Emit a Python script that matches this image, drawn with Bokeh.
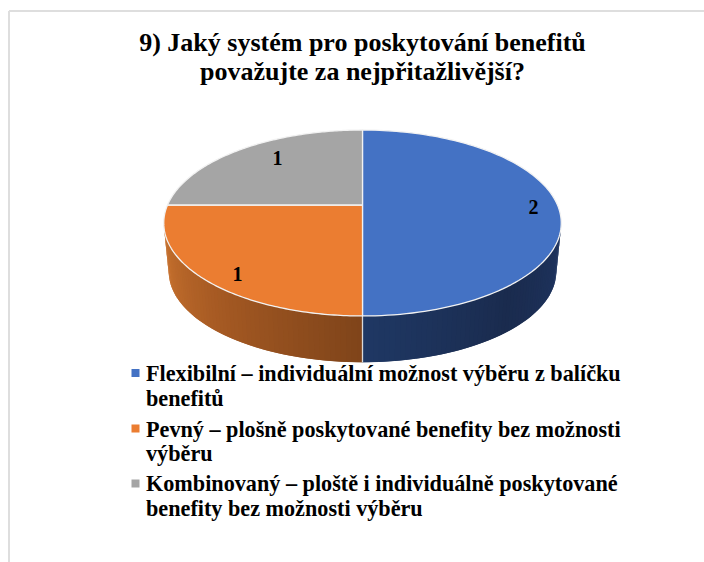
import math
from bokeh.plotting import figure
from bokeh.models import Range1d
from bokeh.core.properties import value
from bokeh.embed import file_html
from bokeh.resources import INLINE

title_lines = ["9) Jaký systém pro poskytování benefitů", "považujte za nejpřitažlivější?"]
slice_values = [2, 1, 1]
slice_colors = ["#4472C4", "#EB7D31", "#A5A5A5"]
legend_lines = [
    ["Flexibilní – individuální možnost výběru z balíčku", "benefitů"],
    ["Pevný – plošně poskytované benefity bez možnosti", "výběru"],
    ["Kombinovaný – ploště i individuálně poskytované", "benefity bez možnosti výběru"],
]
label_positions = [(533, 206), (237, 273), (277, 157)]
legend_line_y = [[373, 398], [429, 453], [483, 508]]
legend_marker_y = [372.5, 428, 483]

FONT = value("Liberation Serif")
W, H = 704, 562
p = figure(width=W, height=H, output_backend="svg", toolbar_location=None,
           x_range=Range1d(0, W), y_range=Range1d(H, 0), min_border=0)
p.axis.visible = False
p.grid.visible = False
p.outline_line_color = None
p.background_fill_color = "white"

CX, CY = 362.0, 204.5
A, B, C = 89.5, 0.1935, 195.0
KX, KY, SIDE_Y = 0.975, 0.975, 253.5


def top(theta):
    u, v = math.sin(theta), math.cos(theta)
    d = 1 + B * v
    return CX + C * u / d, CY - A * v / d


def bottom(theta):
    u, v = math.sin(theta), math.cos(theta)
    d = 1 + B * v
    return CX + KX * C * u / d, SIDE_Y - KY * A * v / d


def mix(c1, c2, t):
    a = [int(c1[i:i + 2], 16) for i in (1, 3, 5)]
    b = [int(c2[i:i + 2], 16) for i in (1, 3, 5)]
    return "#%02x%02x%02x" % tuple(round(x + (y - x) * t) for x, y in zip(a, b))


# frame
p.line([8.5, 8.5], [562, 10.5], line_color="#dedede", line_width=2)
p.line([8.5, 704], [10.5, 10.5], line_color="#dedede", line_width=2)

total = sum(slice_values)
fracs, cum = [], 0.0
for v in slice_values:
    fracs.append((cum, cum + v / total))
    cum += v / total

extreme = math.acos(-B)
side_ranges = [(extreme, math.pi, "#1f3561", "#1a2b4e", "#1f3864"),
               (2 * math.pi - extreme, math.pi, "#cb7430", "#a65a23", "#7f441a")]
for t0, t1, c0, cm, c1 in side_ranges:
    n = 60
    step = (t1 - t0) / n
    for i in range(n):
        a0 = t0 + step * i
        a1 = t1 if i == n - 1 else a0 + step * 2.0
        p0, p1, q1, q0 = top(a0), top(a1), bottom(a1), bottom(a0)
        f = (i + 0.5) / n
        col = mix(c0, cm, f * 2) if f < 0.5 else mix(cm, c1, f * 2 - 1)
        p.patch([p0[0], p1[0], q1[0], q0[0]], [p0[1], p1[1], q1[1], q0[1]],
                fill_color=col, line_color=None)

# side seam
s0, s1 = top(math.pi), bottom(math.pi)
p.line([s0[0], s1[0]], [s0[1], s1[1]], line_color="#d9d9d9", line_width=1.3)

# top faces
for (f0, f1), col in zip(fracs, slice_colors):
    n = 120
    pts = [top(2 * math.pi * (f0 + (f1 - f0) * i / n)) for i in range(n + 1)]
    xs = [CX] + [q[0] for q in pts]
    ys = [CY] + [q[1] for q in pts]
    p.patch(xs, ys, fill_color=col, line_color="#f2f2f2", line_width=1.3, line_join="round")

# data labels
p.text([q[0] for q in label_positions], [q[1] for q in label_positions],
       text=[str(v) for v in slice_values], text_font=FONT, text_font_style="bold",
       text_font_size="20px", text_color="#000000", text_align="center", text_baseline="middle")

# title
p.text([362, 362], [42, 71], text=title_lines, text_font=FONT, text_font_style="bold",
       text_font_size="26px", text_color="#000000", text_align="center", text_baseline="middle")

# legend
lx, ly = [], []
lt = []
for lines, ys in zip(legend_lines, legend_line_y):
    for t, y in zip(lines, ys):
        lt.append(t)
        lx.append(145.5)
        ly.append(y)
p.text(lx, ly, text=lt, text_font=FONT, text_font_style="bold", text_font_size="22.2px",
       text_color="#000000", text_align="left", text_baseline="middle")
p.rect([135] * 3, legend_marker_y, width=8, height=8, fill_color=slice_colors, line_color=None)

open("out.html", "w").write(file_html(p, INLINE))
